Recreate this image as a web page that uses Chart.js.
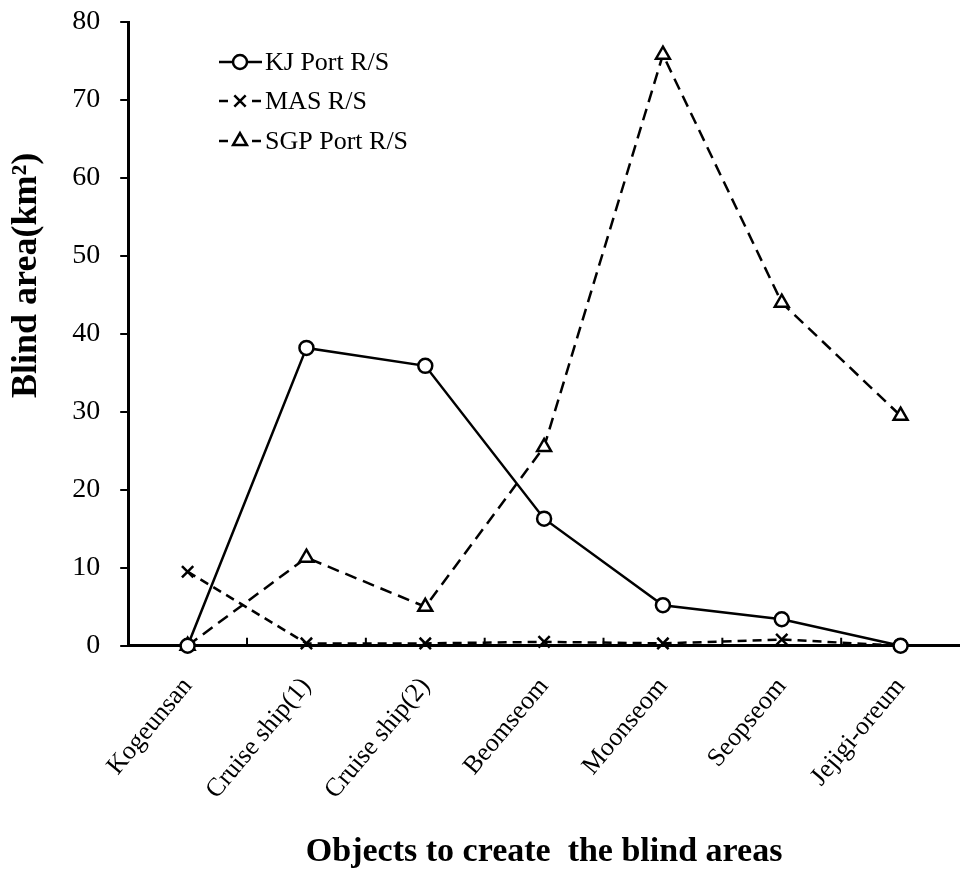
<!DOCTYPE html>
<html>
<head>
<meta charset="utf-8">
<script src="https://cdn.jsdelivr.net/npm/chart.js@4"></script>
<style>
  body { margin: 0; background: #fff; }
  #wrap { width: 960px; height: 873px; }
</style>
</head>
<body>
<div id="wrap"><canvas id="blind_chart"></canvas></div>
<script>
var objects = ["Kogeunsan", "Cruise ship(1)", "Cruise ship(2)", "Beomseom", "Moonseom", "Seopseom", "Jejigi-oreum"];
var kjPort = [0, 38.2, 35.9, 16.3, 5.2, 3.4, 0];
var masRS = [9.5, 0.3, 0.3, 0.5, 0.3, 0.8, 0];
var sgpPort = [0, 11.3, 5.0, 25.5, 75.8, 44.0, 29.5];
var yTicks = [0, 10, 20, 30, 40, 50, 60, 70, 80];

var serif = "'Liberation Serif', 'Times New Roman', serif";

// small ticks pointing up into the plot, between categories
var innerTicks = {
	id: 'innerTicks',
	afterDatasetsDraw: function(chart){
		var x = chart.scales.x, c = chart.ctx;
		var bottom = chart.chartArea.bottom;
		c.save();
		c.strokeStyle = '#000';
		c.lineWidth = 2;
		for(var i=1; i<objects.length; i++){
			var px = (x.getPixelForValue(i-1) + x.getPixelForValue(i)) / 2;
			c.beginPath();
			c.moveTo(px, bottom);
			c.lineTo(px, bottom - 8);
			c.stroke();
		}
		c.restore();
	}
};

// legend with line sample + marker, inside the plot
var lineLegend = {
	id: 'lineLegend',
	afterDraw: function(chart){
		var c = chart.ctx;
		var rows = [62, 101, 141];
		c.save();
		chart.data.datasets.forEach(function(ds, i){
			var y = rows[i];
			c.strokeStyle = '#000';
			c.lineWidth = 2.5;
			c.beginPath();
			if(ds.borderDash){
				c.moveTo(219, y); c.lineTo(228, y);
				c.moveTo(252, y); c.lineTo(261, y);
			} else {
				c.moveTo(219, y); c.lineTo(262, y);
			}
			c.stroke();
			c.fillStyle = '#fff';
			Chart.helpers.drawPoint(c, {
				pointStyle: ds.pointStyle,
				radius: ds.pointRadius,
				borderWidth: 2.5
			}, 240, y);
			c.fillStyle = '#000';
			c.font = "26px " + serif;
			c.textBaseline = 'middle';
			c.textAlign = 'left';
			c.fillText(ds.label, 265, y + 1);
		});
		c.restore();
	}
};

function series(label, data, style, dash, r){
	return {
		label: label,
		data: data,
		borderColor: '#000',
		backgroundColor: '#fff',
		borderWidth: 2.5,
		borderDash: dash,
		pointStyle: style,
		pointRadius: r,
		pointBorderWidth: 2.5,
		pointBackgroundColor: '#fff',
		pointBorderColor: '#000',
		tension: 0,
		clip: false
	};
}

new Chart(document.getElementById("blind_chart"), {
	type: 'line',
	data: {
		labels: objects,
		datasets: [
			series('KJ Port R/S', kjPort, 'circle', undefined, 7),
			series('MAS R/S', masRS, 'crossRot', [9, 6], 8),
			series('SGP Port R/S', sgpPort, 'triangle', [12, 7], 8)
		]
	},
	options: {
		responsive: true,
		maintainAspectRatio: false,
		animation: false,
		layout: { autoPadding: false, padding: { top: 22, right: 0, left: 1, bottom: -4 } },
		plugins: {
			legend: { display: false },
			tooltip: { enabled: false }
		},
		scales: {
			x: {
				offset: true,
				grid: { display: false, drawOnChartArea: false },
				border: { display: true, color: '#000', width: 3 },
				ticks: {
					color: '#000',
					font: { family: serif, size: 26 },
					minRotation: 50,
					maxRotation: 50,
					padding: 18
				},
				title: {
					display: true,
					text: 'Objects to create  the blind areas',
					color: '#000',
					font: { family: serif, size: 34, weight: 'bold' },
					padding: { top: 9 }
				}
			},
			y: {
				min: 0,
				max: 80,
				afterBuildTicks: function(axis){
					axis.ticks = yTicks.map(function(v){ return { value: v }; });
				},
				afterFit: function(scale){
					scale.paddingTop = 0;
					scale.paddingBottom = 0;
				},
				grid: { drawOnChartArea: false, color: '#000', lineWidth: 2, tickLength: 8 },
				border: { display: true, color: '#000', width: 3 },
				ticks: {
					color: '#000',
					font: { family: serif, size: 28 },
					padding: 20
				},
				title: {
					display: true,
					text: '\u00A0\u00A0\u00A0\u00A0\u00A0\u00A0\u00A0\u00A0\u00A0\u00A0\u00A0\u00A0\u00A0Blind area(km\u00B2)',
					color: '#000',
					font: { family: serif, size: 36, weight: 'bold' },
					padding: { bottom: 4 }
				}
			}
		}
	},
	plugins: [innerTicks, lineLegend]
});
</script>
</body>
</html>
